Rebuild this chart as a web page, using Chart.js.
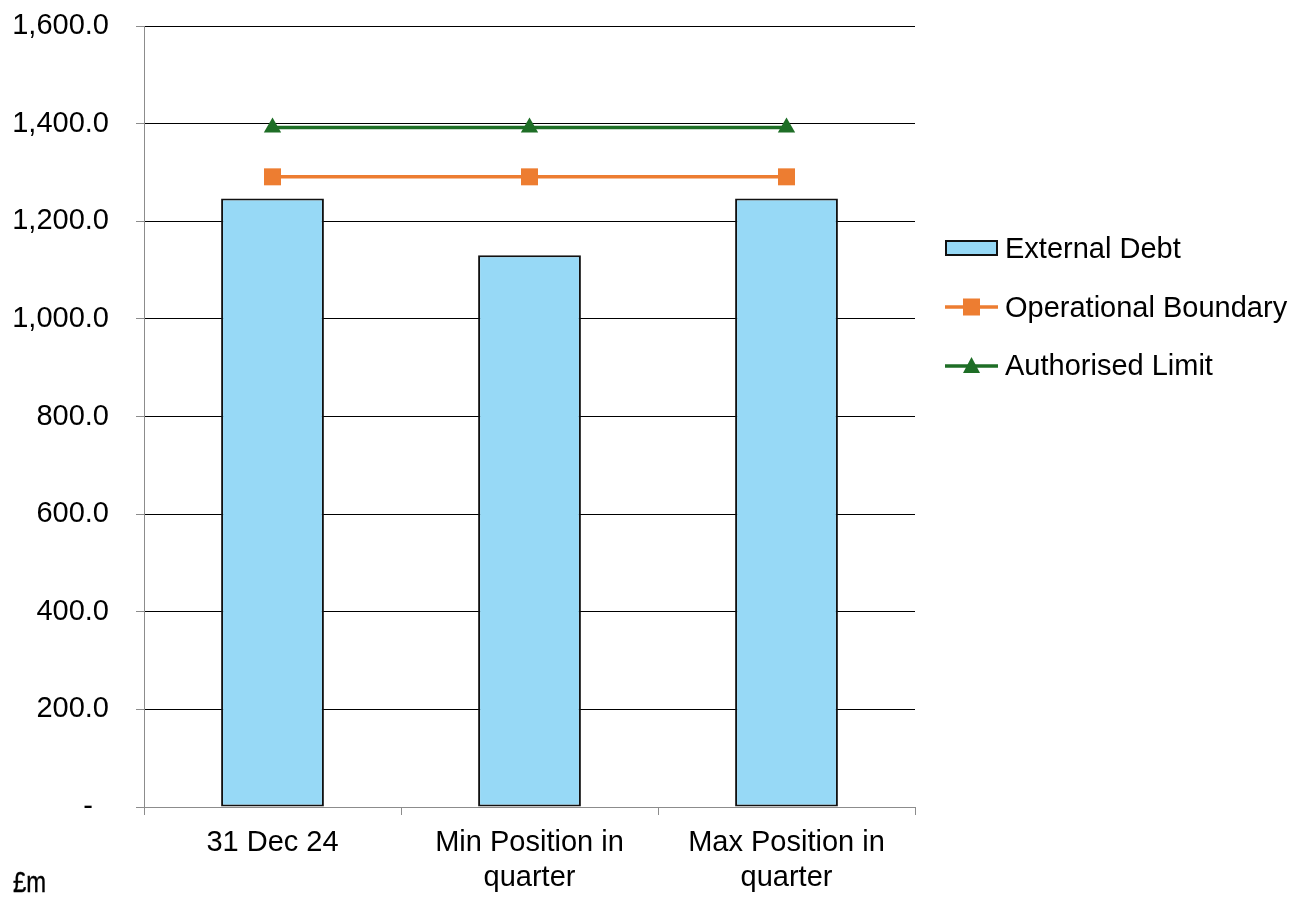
<!DOCTYPE html>
<html>
<head>
<meta charset="utf-8">
<script src="https://cdn.jsdelivr.net/npm/chart.js@4"></script>
<style>
  body { margin: 0; background: #fff; font-family: "Liberation Sans", Arial, sans-serif; }
  #wrap { position: relative; width: 1307px; height: 900px; }
  #unit { position: absolute; left: 13px; top: 866px; font-family: "Liberation Sans", Arial, sans-serif; font-size: 29px; color: #000; transform: scaleX(0.82); transform-origin: left top; -webkit-text-stroke: 0.4px #000; }
  .leg { position: absolute; left: 945px; height: 30px; display: flex; align-items: center; font-size: 29px; color: #000; white-space: nowrap; }
  .leg svg { margin-right: 6px; }
</style>
</head>
<body>
<div id="wrap">
  <canvas id="debtChart" width="1307" height="900"></canvas>
  <div id="unit">£m</div>
  <div class="leg" style="top:233px">
    <svg width="54" height="18"><rect x="1" y="2" width="51" height="14" fill="#97D9F6" stroke="#111" stroke-width="2"/></svg>External Debt
  </div>
  <div class="leg" style="top:292px">
    <svg width="54" height="18"><line x1="0" y1="9" x2="53" y2="9" stroke="#ED7D31" stroke-width="3.5"/><rect x="18" y="0.5" width="17" height="17" fill="#ED7D31"/></svg>Operational Boundary
  </div>
  <div class="leg" style="top:350px">
    <svg width="54" height="18"><line x1="0" y1="10" x2="53" y2="10" stroke="#1E6E26" stroke-width="3.5"/><polygon points="26.5,1 35,17 18,17" fill="#1E6E26"/></svg>Authorised Limit
  </div>
</div>
<script>
const categories = ['31 Dec 24', ['Min Position in', 'quarter'], ['Max Position in', 'quarter']];
const externalDebt = [1246.5, 1130.5, 1246.5];
const operationalBoundary = [1291, 1291, 1291];
const authorisedLimit = [1392, 1392, 1392];
const yTicks = { min: 0, max: 1600, step: 200 };

const axisGrey = '#8c8c8c';
const fontMain = { family: '"Liberation Sans", Arial, sans-serif', size: 29 };

function fmtTick(v) {
    if (v === 0) return '-  ';
    return v.toLocaleString('en-GB', { minimumFractionDigits: 1, maximumFractionDigits: 1 });
}

new Chart(document.getElementById('debtChart'), {
    type: 'bar',
    data: {
        labels: categories,
        datasets: [
            {
                type: 'line',
                label: 'Authorised Limit',
                data: authorisedLimit,
                borderColor: '#1E6E26',
                backgroundColor: '#1E6E26',
                borderWidth: 3.5,
                pointStyle: 'triangle',
                pointRadius: 10,
                pointBorderWidth: 0,
                order: 1
            },
            {
                type: 'line',
                label: 'Operational Boundary',
                data: operationalBoundary,
                borderColor: '#ED7D31',
                backgroundColor: '#ED7D31',
                borderWidth: 3.5,
                pointStyle: 'rect',
                pointRadius: 12,
                pointBorderWidth: 0,
                order: 2
            },
            {
                label: 'External Debt',
                data: externalDebt,
                backgroundColor: '#97D9F6',
                borderColor: '#111',
                borderWidth: 2,
                borderSkipped: false,
                barPercentage: 0.4,
                categoryPercentage: 1,
                order: 3
            }
        ]
    },
    options: {
        responsive: false,
        animation: false,
        layout: { padding: { top: 26, right: 392, bottom: 0, left: 0 } },
        plugins: { legend: { display: false }, tooltip: { enabled: false } },
        scales: {
            x: {
                grid: { drawOnChartArea: false, drawTicks: true, tickLength: 8, tickColor: axisGrey, offset: true },
                border: { color: axisGrey, width: 1 },
                ticks: { color: '#000', font: { ...fontMain, lineHeight: 1.2 }, padding: 11, maxRotation: 0, autoSkip: false },
                afterFit: s => { s.height = 93; }
            },
            y: {
                min: yTicks.min,
                max: yTicks.max,
                grid: {
                    color: c => (c.tick && c.tick.value === 0) ? axisGrey : '#000',
                    lineWidth: 1,
                    tickLength: 8,
                    tickColor: axisGrey
                },
                border: { color: axisGrey, width: 1 },
                ticks: { stepSize: yTicks.step, color: '#000', font: fontMain, padding: 27, callback: fmtTick },
                afterFit: s => { s.width = 144; s.paddingTop = 10; s.paddingBottom = 10; }
            }
        }
    }
});
</script>
</body>
</html>
